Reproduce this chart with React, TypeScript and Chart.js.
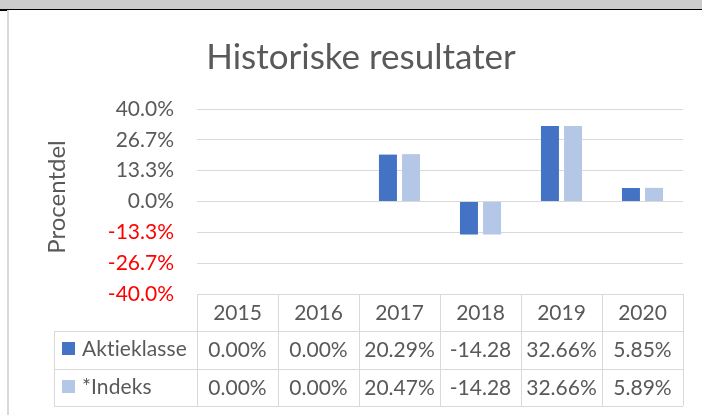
import React, { useEffect, useRef } from "react";
import { Chart, registerables } from "chart.js";

Chart.register(...registerables);

const chartTitle = "Historiske resultater";
const yAxisTitle = "Procentdel";
const years = ["2015", "2016", "2017", "2018", "2019", "2020"];
const seriesNames = ["Aktieklasse", "*Indeks"];
const aktieklasse = [0, 0, 20.29, -14.28, 32.66, 5.85];
const indeks = [0, 0, 20.47, -14.28, 32.66, 5.89];
const aktieklasseLabels = ["0.00%", "0.00%", "20.29%", "-14.28", "32.66%", "5.85%"];
const indeksLabels = ["0.00%", "0.00%", "20.47%", "-14.28", "32.66%", "5.89%"];
const yTickValues = [-40, -40 / 3, -80 / 3, 0, 40 / 3, 80 / 3, 40].sort((a, b) => a - b);

const COLORS = ["#4472C4", "#B4C7E7"];
const TEXT = "#595959";
const GRID = "#d9d9d9";
const FONT = "Lato";

const framePlugin = {
  id: "frame",
  beforeDraw(chart: any) {
    const { ctx, width, height } = chart;
    ctx.save();
    ctx.fillStyle = "#ffffff";
    ctx.fillRect(0, 0, width, height);
    // top gray strip
    ctx.fillStyle = "#cccccc";
    ctx.fillRect(0, 0, width, 9);
    ctx.fillStyle = "#000000";
    ctx.fillRect(0, 9, width, 1);
    ctx.fillRect(0, 9, 7, 2);
    // left border
    ctx.fillStyle = "#d9d9d9";
    ctx.fillRect(7, 10, 2, height - 10);
    ctx.restore();
  },
  afterDraw(chart: any) {
    const { ctx, chartArea } = chart;
    const xs = chart.scales.x;
    ctx.save();
    // title
    ctx.fillStyle = TEXT;
    ctx.font = `35px ${FONT}`;
    ctx.textAlign = "center";
    ctx.textBaseline = "alphabetic";
    ctx.fillText(chartTitle, 361, 69);
    // y axis title
    ctx.save();
    ctx.translate(65, 197);
    ctx.rotate(-Math.PI / 2);
    ctx.font = `24px ${FONT}`;
    ctx.fillText(yAxisTitle, 0, 0);
    ctx.restore();

    // data table
    const n = years.length;
    const colW = (chartArea.right - chartArea.left) / n;
    const top = chartArea.bottom;
    const rowY = [top, top + 37, top + 75, top + 112];
    const legendLeft = 54;
    ctx.strokeStyle = GRID;
    ctx.lineWidth = 1;
    const hline = (x1: number, x2: number, y: number) => {
      ctx.beginPath();
      ctx.moveTo(x1, Math.round(y) + 0.5);
      ctx.lineTo(x2, Math.round(y) + 0.5);
      ctx.stroke();
    };
    const vline = (x: number, y1: number, y2: number) => {
      ctx.beginPath();
      ctx.moveTo(Math.round(x) + 0.5, y1);
      ctx.lineTo(Math.round(x) + 0.5, y2);
      ctx.stroke();
    };
    hline(chartArea.left, chartArea.right, rowY[0]);
    hline(legendLeft, chartArea.right, rowY[1]);
    hline(legendLeft, chartArea.right, rowY[2]);
    hline(legendLeft, chartArea.right, rowY[3]);
    vline(legendLeft, rowY[1], rowY[3]);
    for (let i = 0; i <= n; i++) {
      const x = i < n ? xs.getPixelForValue(i) - colW / 2 : xs.getPixelForValue(n - 1) + colW / 2;
      vline(x, rowY[0], rowY[3]);
    }
    ctx.font = `21px ${FONT}`;
    ctx.fillStyle = TEXT;
    ctx.textAlign = "center";
    const rows = [aktieklasseLabels, indeksLabels];
    for (let i = 0; i < n; i++) {
      const cx = xs.getPixelForValue(i);
      ctx.fillText(years[i], cx, rowY[0] + 25.5);
      ctx.fillText(rows[0][i], cx, rowY[1] + 26);
      ctx.fillText(rows[1][i], cx, rowY[2] + 26);
    }
    ctx.textAlign = "left";
    try {
      (ctx as any).letterSpacing = "0.1px";
    } catch (e) {}
    for (let r = 0; r < 2; r++) {
      ctx.fillStyle = COLORS[r];
      ctx.fillRect(62, rowY[r + 1] + 11, 13, 13);
      ctx.fillStyle = TEXT;
      ctx.fillText(seriesNames[r], 82, rowY[r + 1] + 25);
    }
    ctx.restore();
  },
};

export default function App() {
  const ref = useRef<HTMLCanvasElement>(null);
  useEffect(() => {
    const chart = new Chart(ref.current as HTMLCanvasElement, {
      type: "bar",
      data: {
        labels: years,
        datasets: [
          { label: seriesNames[0], data: aktieklasse, backgroundColor: COLORS[0], borderWidth: 0 },
          { label: seriesNames[1], data: indeks, backgroundColor: COLORS[1], borderWidth: 0 },
        ],
      },
      options: {
        responsive: false,
        animation: false,
        devicePixelRatio: 1,
        datasets: { bar: { barPercentage: 0.78, categoryPercentage: 0.57 } },
        layout: { padding: { left: 0, top: 109, right: 19, bottom: 121 } },
        plugins: { legend: { display: false }, title: { display: false }, tooltip: { enabled: false } },
        scales: {
          x: { display: false },
          y: {
            min: -40,
            max: 40,
            afterBuildTicks: (scale: any) => {
              scale.ticks = yTickValues.map((v) => ({ value: v }));
            },
            afterFit: (scale: any) => {
              scale.width = 197;
            },
            border: { display: false },
            grid: { color: GRID, drawTicks: false, lineWidth: 1 },
            ticks: {
              padding: 23,
              font: { family: FONT, size: 21 },
              color: (c: any) => (c.tick && c.tick.value < -0.001 ? "#FF0000" : TEXT),
              callback: (v: any) => Number(v).toFixed(1) + "%",
            },
          },
        },
      },
      plugins: [framePlugin],
    });
    return () => chart.destroy();
  }, []);
  return (
    <div style={{ position: "fixed", left: 0, top: 0, width: 702, height: 415, background: "#fff" }}>
      <canvas ref={ref} width={702} height={415} style={{ display: "block", width: 702, height: 415 }} />
    </div>
  );
}
